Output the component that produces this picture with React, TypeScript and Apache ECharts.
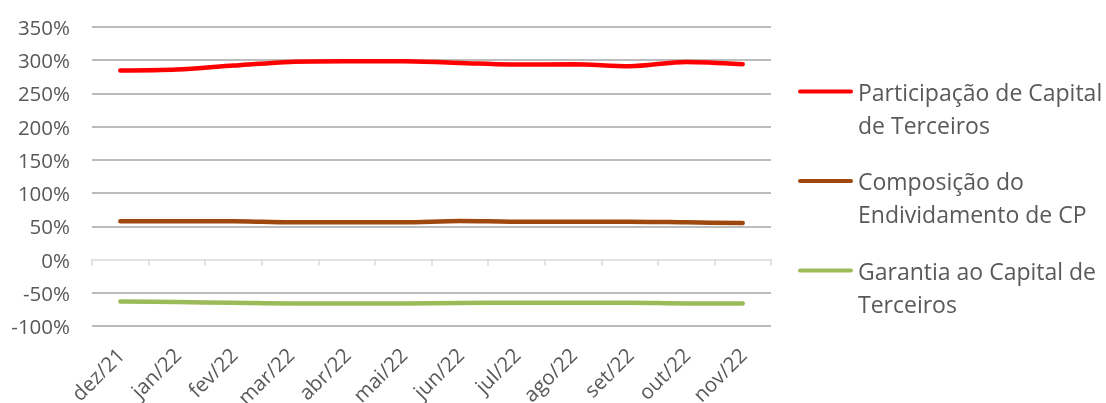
import React, { useEffect, useRef } from "react";
import * as echarts from "echarts";

const categories = ["dez/21", "jan/22", "fev/22", "mar/22", "abr/22", "mai/22", "jun/22", "jul/22", "ago/22", "set/22", "out/22", "nov/22"];
const participacao = [284.5, 286, 292, 297.5, 298.5, 298.5, 296, 293.5, 294, 291, 297.5, 294];
const composicao = [57.5, 57.5, 57.5, 56, 56, 56, 58, 57, 57, 57, 56, 55];
const garantia = [-63, -64, -65, -66, -66, -66, -65.5, -65, -65, -65, -66, -66];
const seriesNames = ["Participação de Capital\nde Terceiros", "Composição do\nEndividamento de CP", "Garantia ao Capital de\nTerceiros"];
const seriesColors = ["#FF0000", "#9E480E", "#9BBB59"];
const yTicks = [-100, -50, 0, 50, 100, 150, 200, 250, 300, 350];

const FONT = "Open Sans";
const TEXT = "#595959";

export default function App() {
  const ref = useRef<HTMLDivElement>(null);
  useEffect(() => {
    if (!ref.current) return;
    const chart = echarts.init(ref.current, null, { renderer: "svg" });
    const splitColors = yTicks.map((t) => (t === 0 ? "rgba(0,0,0,0)" : "#A6A6A6"));
    const lineH = 33;
    const iconH = 37;
    const legendTops = [75, 164.5, 254];
    const data = [participacao, composicao, garantia];
    chart.setOption({
      animation: false,
      grid: { left: 92, right: 335, top: 27, bottom: 77, containLabel: false, outerBoundsMode: "none" },
      legend: seriesNames.map((n, i) => ({
        data: [n],
        orient: "vertical",
        left: 798,
        top: legendTops[i],
        padding: 0,
        icon: "path://M2,0H53A2,2 0 0 1 53,4H2A2,2 0 0 1 2,0Z M0,37L0.001,37Z",
        itemWidth: 55,
        itemHeight: iconH,
        itemGap: 0,
        selectedMode: false,
        textStyle: {
          fontFamily: FONT,
          fontSize: 23,
          color: TEXT,
          lineHeight: lineH,
        },
      })),
      xAxis: [
        {
          type: "category",
          data: categories,
          boundaryGap: true,
          axisLine: { onZero: true, lineStyle: { color: "#D9D9D9", width: 1.5 } },
          axisTick: { show: true, length: 6, lineStyle: { color: "#D9D9D9", width: 1.5 } },
          axisLabel: { show: false },
        },
        {
          type: "category",
          data: categories,
          boundaryGap: true,
          position: "bottom",
          axisLine: { show: false, onZero: false },
          axisTick: { show: false },
          axisLabel: {
            rotate: 45,
            margin: 25,
            interval: 0,
            fontFamily: FONT,
            fontSize: 20.5,
            color: TEXT,
          },
        },
      ],
      yAxis: {
        type: "value",
        min: -100,
        max: 350,
        interval: 50,
        axisLine: { show: false },
        axisTick: { show: false },
        axisLabel: {
          formatter: "{value}%",
          margin: 22,
          fontFamily: FONT,
          fontSize: 20.5,
          color: TEXT,
        },
        splitLine: { show: true, lineStyle: { color: splitColors, width: 1.5 } },
      },
      series: seriesNames.map((n, i) => ({
        name: n,
        type: "line",
        xAxisIndex: 0,
        data: data[i],
        smooth: 0.3,
        symbol: "none",
        color: seriesColors[i],
        lineStyle: { color: seriesColors[i], width: 4.5, cap: "round" },
      })),
    });
    return () => chart.dispose();
  }, []);
  return <div ref={ref} style={{ position: "fixed", left: 0, top: 0, width: 1106, height: 403 }} />;
}
